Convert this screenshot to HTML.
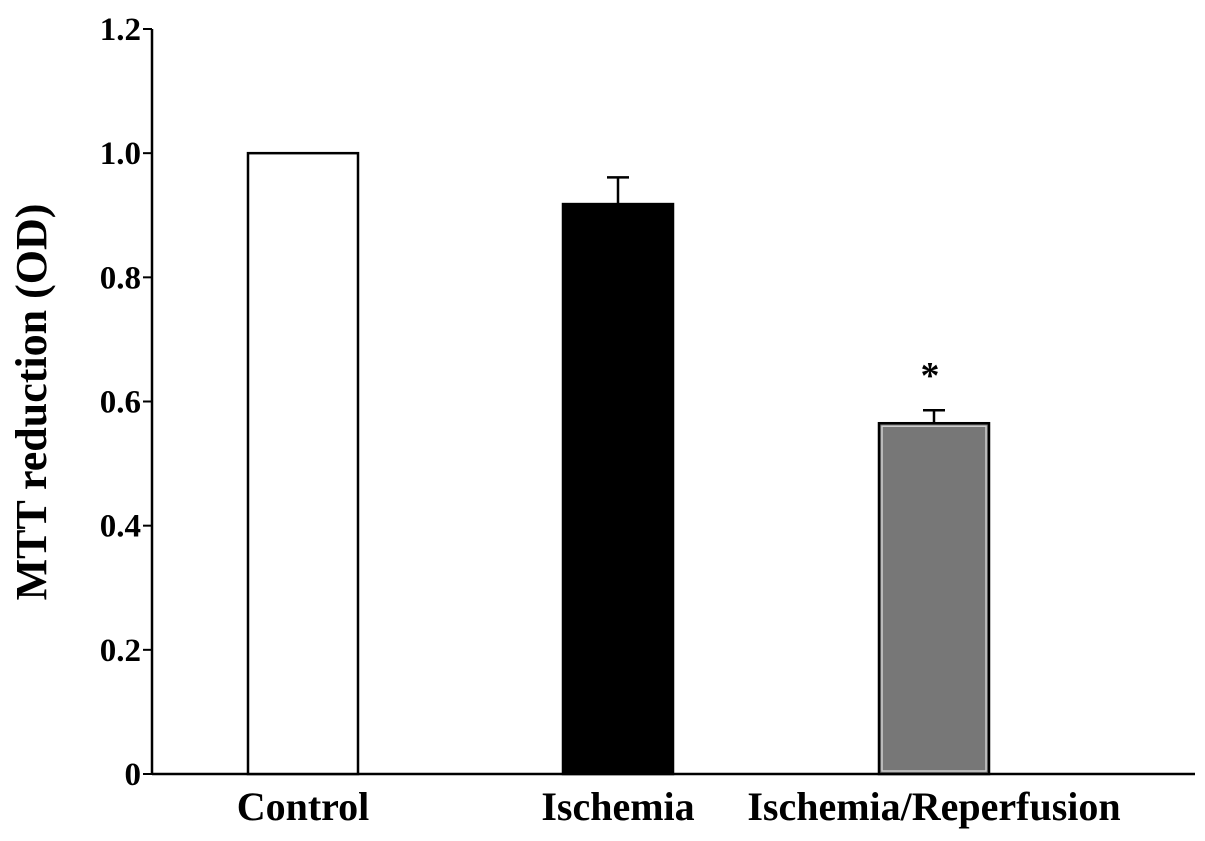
<!DOCTYPE html>
<html><head><meta charset="utf-8"><style>
html,body{margin:0;padding:0;background:#fff;}
svg{display:block;font-family:"Liberation Serif",serif;font-weight:bold;}
</style></head><body>
<svg id="chart" width="1205" height="841" viewBox="0 0 1205 841" xmlns="http://www.w3.org/2000/svg">
<text x="0" y="0" transform="translate(46,402) rotate(-90)" text-anchor="middle" font-size="44">MTT reduction (OD)</text>
<g id="axes"></g>
<g id="bars"></g>
</svg>
<script>
const categories = ["Control", "Ischemia", "Ischemia/Reperfusion"];
const values = [1.0, 0.918, 0.565];
const errors = [0, 0.043, 0.021];
const significance = ["", "", "*"];
const yTicks = [0, 0.2, 0.4, 0.6, 0.8, 1.0, 1.2];
const yTickLabels = ["0", "0.2", "0.4", "0.6", "0.8", "1.0", "1.2"];

const NS = "http://www.w3.org/2000/svg";
const x0 = 152, x1 = 1195, yBase = 774, yTop = 29, yMax = 1.2;
const yScale = v => yBase - (v / yMax) * (yBase - yTop);
const centers = [303, 618, 934];
const bw = 110;
const fills = ["#ffffff", "#000000", "#777777"];
function mk(tag, attrs, parent) {
  const e = document.createElementNS(NS, tag);
  for (const k in attrs) e.setAttribute(k, attrs[k]);
  parent.appendChild(e);
  return e;
}
const axes = document.getElementById("axes");
const bars = document.getElementById("bars");

const yAxis = mk("line", {x1: x0, y1: yTop, x2: x0, y2: yBase, stroke: "#000", "stroke-width": 2.5}, axes);


const xAxis = mk("line", {x1: x0, y1: yBase, x2: x1, y2: yBase, stroke: "#000", "stroke-width": 2.5}, axes);



yTicks.forEach((t, i) => {
  const y = yScale(t);
  const tk = mk("line", {x1: x0 - 9, y1: y, x2: x0, y2: y, stroke: "#000", "stroke-width": 2}, axes);
  
  
  const lb = mk("text", {x: x0 - 11, y: y + 11, "text-anchor": "end", "font-size": 33}, axes);
  lb.textContent = yTickLabels[i];
  
  
});

categories.forEach((c, i) => {
  const cx = centers[i], top = yScale(values[i]);
  if (errors[i] > 0) {
    const ey = yScale(values[i] + errors[i]);
    const el = mk("line", {x1: cx, y1: ey, x2: cx, y2: top, stroke: "#000", "stroke-width": 2.5}, bars);
    
    
    const ec = mk("line", {x1: cx - 11, y1: ey, x2: cx + 11, y2: ey, stroke: "#000", "stroke-width": 2.5}, bars);
    
    
  }
  const r = mk("rect", {x: cx - bw / 2, y: top, width: bw, height: yBase - top, fill: fills[i], stroke: "#000", "stroke-width": 2.5}, bars);
  
  
  if (i === 2) {
    const inner = mk("rect", {x: cx - bw / 2 + 3, y: top + 3, width: bw - 6, height: yBase - top - 6, fill: "none", stroke: "#cfcfcf", "stroke-width": 1.5}, bars);
    
    
  }
  if (significance[i]) {
    const s = mk("text", {x: cx - 4, y: yScale(values[i] + errors[i]) - 22, "text-anchor": "middle", "font-size": 38}, bars);
    s.textContent = significance[i];
    
    
  }
  const xl = mk("text", {x: cx, y: 820, "text-anchor": "middle", "font-size": 40}, axes);
  xl.textContent = c;
  
  
});
</script>
</body></html>
